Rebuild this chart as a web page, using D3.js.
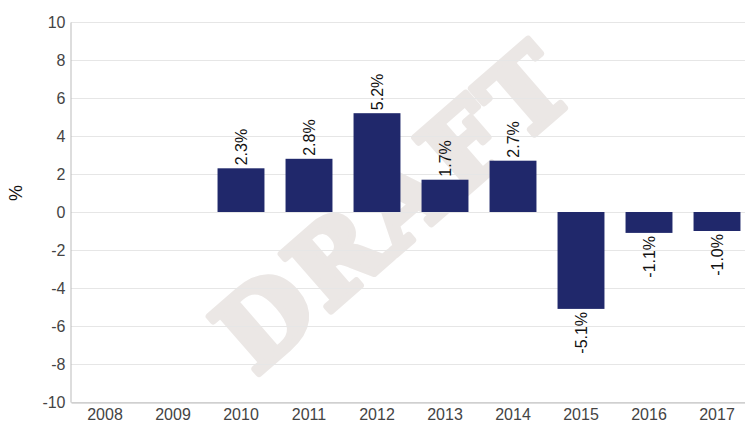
<!DOCTYPE html>
<html lang="en">
<head>
  <meta charset="UTF-8">
  <title>Annual change</title>
  <script src="https://d3js.org/d3.v7.min.js"></script>
  <style>
    body { margin: 0; background: #fff; }
    svg { display: block; font-family: "Liberation Sans", Arial, sans-serif; }
    svg text { font-family: "Liberation Sans", Arial, sans-serif; }
    svg text.wm { font-family: "DejaVu Serif", serif; }
  </style>
</head>
<body>
  <div id="vis"></div>
  <script>
    const years = ["2008", "2009", "2010", "2011", "2012", "2013", "2014", "2015", "2016", "2017"];
    const values = [null, null, 2.3, 2.8, 5.2, 1.7, 2.7, -5.1, -1.1, -1.0];
    const yTicks = [10, 8, 6, 4, 2, 0, -2, -4, -6, -8, -10];

    const width = 745, height = 424;
    const margin = { left: 71, right: -6, top: 22, bottom: 22 };

    const svg = d3.select("#vis").append("svg")
      .attr("width", width)
      .attr("height", height);

    const x = d3.scaleBand()
      .domain(years)
      .range([margin.left, width - margin.right])
      .paddingInner(0.31)
      .paddingOuter(0.155);

    const y = d3.scaleLinear()
      .domain([-10, 10])
      .range([height - margin.bottom, margin.top]);

    // watermark
    svg.append("text")
      .attr("class", "wm")
      .attr("transform", "translate(395,207) rotate(-41)")
      .attr("text-anchor", "middle")
      .attr("dominant-baseline", "central")
      .style("font-weight", "bold")
      .style("font-size", "104px")
      .style("letter-spacing", "5px")
      .style("fill", "#ebe7e5")
      .style("stroke", "#ebe7e5")
      .style("stroke-width", 7)
      .style("stroke-linejoin", "round")
      .text("DRAFT");

    // gridlines
    svg.append("g")
      .selectAll("line")
      .data(yTicks)
      .enter().append("line")
      .attr("x1", margin.left)
      .attr("x2", width)
      .attr("y1", d => Math.round(y(d)) + 0.5)
      .attr("y2", d => Math.round(y(d)) + 0.5)
      .attr("stroke", "#e6e6e6");

    const fmt = d => String(d);

    // y axis
    const yAxis = svg.append("g")
      .attr("transform", `translate(${margin.left - 0.5},0)`)
      .call(d3.axisLeft(y).tickValues(yTicks).tickFormat(fmt).tickSize(0).tickPadding(5));
    yAxis.attr("font-family", null);
    yAxis.select(".domain").attr("stroke", "#bbb");
    yAxis.selectAll("text")
      .style("font-size", "16px")
      .style("fill", "#444");

    // x axis
    const xAxis = svg.append("g")
      .attr("transform", `translate(0,${y(-10) + 0.5})`)
      .call(d3.axisBottom(x).tickSize(0).tickPadding(6).tickSizeOuter(0));
    xAxis.attr("font-family", null);
    xAxis.select(".domain").attr("stroke", "#bbb");
    xAxis.selectAll("text")
      .style("font-size", "16px")
      .style("fill", "#444");

    // y title
    svg.append("text")
      .attr("transform", "translate(22,193) rotate(-90)")
      .attr("text-anchor", "middle")
      .style("font-size", "18px")
      .style("fill", "#111")
      .text("%");

    const data = years.map((yr, i) => ({ year: yr, value: values[i] }))
      .filter(d => d.value !== null);

    // bars
    svg.append("g")
      .selectAll("rect")
      .data(data)
      .enter().append("rect")
      .attr("x", d => x(d.year))
      .attr("width", x.bandwidth())
      .attr("y", d => y(Math.max(0, d.value)))
      .attr("height", d => Math.abs(y(d.value) - y(0)))
      .attr("fill", "#20286b");

    // value labels
    svg.append("g")
      .selectAll("text")
      .data(data)
      .enter().append("text")
      .attr("transform", d => {
        const cx = x(d.year) + x.bandwidth() / 2 + 6;
        const yy = d.value >= 0 ? y(d.value) - 3 : y(d.value) + 3;
        return `translate(${cx},${yy}) rotate(-90)`;
      })
      .attr("text-anchor", d => d.value >= 0 ? "start" : "end")
      .style("font-size", "16px")
      .style("fill", "#111")
      .text(d => d.value.toFixed(1) + "%");
  </script>
</body>
</html>
